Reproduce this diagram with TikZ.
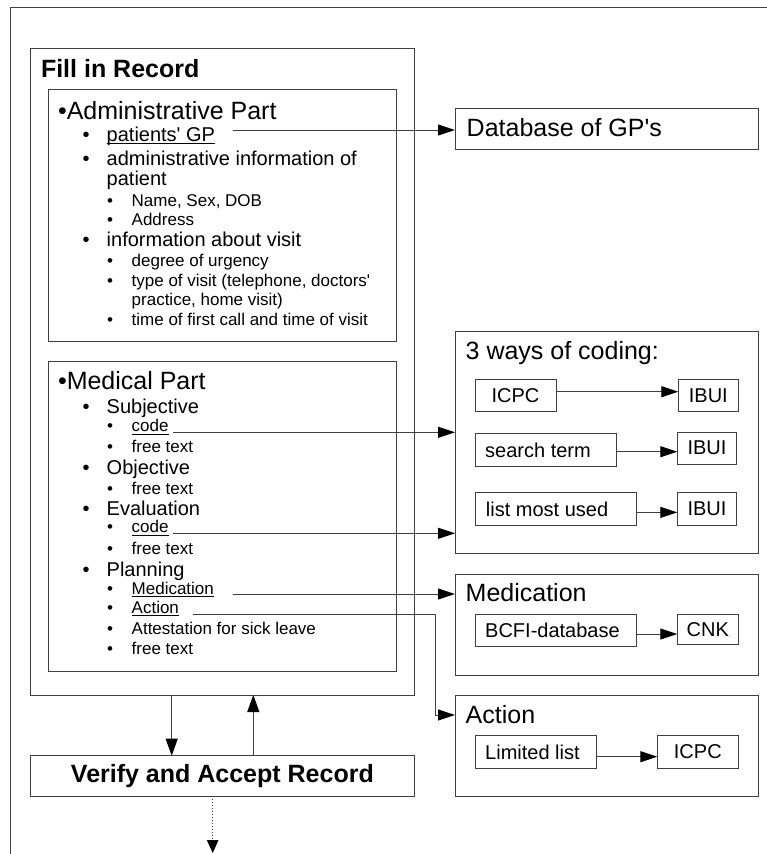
\documentclass[tikz,border=0pt]{standalone}
\usepackage{fontspec}
\setmainfont{Liberation Sans}[Ligatures=TeXOff]
\usetikzlibrary{arrows.meta,calc}
\definecolor{ln}{HTML}{404040}
\newcommand{\ItA}[3]{\node[txt,mid] (#1) at (106.7,#2) {#3}; \node[anchor=base,inner sep=0,mid] (#1-b) at (86,#2) {•};}
\newcommand{\ItB}[3]{\node[txt,sml] (#1) at (131.7,#2) {#3}; \node[anchor=base,inner sep=0,sml] (#1-b) at (110,#2) {•};}
\begin{document}
\begin{tikzpicture}[x=1pt,y=-1pt,
  box/.style={draw=ln, line width=1pt, inner sep=0, outer sep=0, anchor=north west},
  txt/.style={anchor=base west, inner sep=0, outer sep=0},
  big/.style={font=\fontsize{25}{30}\selectfont},
  bigb/.style={font=\fontsize{25}{30}\selectfont\bfseries},
  mid/.style={font=\fontsize{20}{24}\selectfont},
  sml/.style={font=\fontsize{17}{20}\selectfont},
  uline/.style={draw=black, line width=0.8pt},
  arr/.style={draw=ln, line width=1pt, -{Triangle[length=17pt,width=11pt,color=black]}},
  arrb/.style={draw=ln, line width=1pt, -{Triangle[length=17pt,width=12pt,color=black]}}]
\useasboundingbox (0,0) rectangle (767,854);
\fill[white] (0,0) rectangle (767,854);
% outer frame
\draw[ln, line width=1pt] (10,856) -- (10,7.5) -- (769,7.5);

% main boxes
\node[box, minimum width=383.5pt, minimum height=646.5pt] (fill) at (30.5,48.5) {};
\node[txt,bigb] (filltitle) at (41,77) {Fill in Record};
\node[box, minimum width=348pt, minimum height=252.4pt] (admin) at (48.7,89.3) {};
\node[box, minimum width=348pt, minimum height=310pt] (med) at (48.7,361.7) {};
\node[box, minimum width=383.8pt, minimum height=40.3pt, bigb] (verify) at (30.5,755.7) {Verify and Accept Record};

% administrative part
\node[txt,big] (adtitle) at (58,119) {•Administrative Part};
\ItA{gp}{141}{patients' GP}
\ItA{ai}{165}{administrative information of}
\node[txt,mid] (ai2) at (106.7,185) {patient};
\ItB{nm}{206.5}{Name, Sex, DOB}
\ItB{addr}{225}{Address}
\ItA{iv}{246}{information about visit}
\ItB{du}{266}{degree of urgency}
\ItB{tv}{286}{type of visit (telephone, doctors'}
\node[txt,sml] (tv2) at (131.7,305) {practice, home visit)};
\ItB{tf}{325}{time of first call and time of visit}

% medical part
\node[txt,big] (mdtitle) at (58,389) {•Medical Part};
\ItA{subj}{413}{Subjective}
\ItB{code1}{431.5}{code}
\ItB{ft1}{452.3}{free text}
\ItA{obj}{474}{Objective}
\ItB{ft2}{494}{free text}
\ItA{eval}{515}{Evaluation}
\ItB{code2}{532.5}{code}
\ItB{ft3}{554.3}{free text}
\ItA{plan}{576}{Planning}
\ItB{medi}{594}{Medication}
\ItB{act}{613}{Action}
\ItB{att}{634.3}{Attestation for sick leave}
\ItB{ft4}{654}{free text}

% underlines
\draw[uline] ([yshift=-2.5pt]gp.base west) -- ([yshift=-2.5pt]gp.base east);
\draw[uline] ([yshift=-2.5pt]code1.base west) -- ([yshift=-2.5pt]code1.base east);
\draw[uline] ([yshift=-2.5pt]code2.base west) -- ([yshift=-2.5pt]code2.base east);
\draw[uline] ([yshift=-2.5pt]medi.base west) -- ([yshift=-2.5pt]medi.base east);
\draw[uline] ([yshift=-2.5pt]act.base west) -- ([yshift=-2.5pt]act.base east);

% right side boxes
\node[box, minimum width=303.3pt, minimum height=41pt] (dbgp) at (455,108.3) {};
\node[txt,big] (dbgptxt) at (466.7,136) {Database of GP's};

\node[box, minimum width=303.3pt, minimum height=222.3pt] (ways) at (455,331) {};
\node[txt,big] (waystitle) at (465.7,359.3) {3 ways of coding:};
\node[box, minimum width=81pt, minimum height=32.4pt, mid] (icpc) at (475,379.3) {ICPC};
\node[box, minimum width=60pt, minimum height=32.4pt, mid] (ib1) at (678.3,379.3) {IBUI};
\node[box, minimum width=141.7pt, minimum height=33.4pt] (st) at (475,433.3) {};
\node[anchor=west, inner sep=0, mid] (sttxt) at ($(st.west)+(10,0)$) {search term};
\node[box, minimum width=59.4pt, minimum height=31.7pt, mid] (ib2) at (677.3,432.3) {IBUI};
\node[box, minimum width=161.7pt, minimum height=32.3pt] (lmu) at (475,492.7) {};
\node[anchor=west, inner sep=0, mid] (lmutxt) at ($(lmu.west)+(10.7,0)$) {list most used};
\node[box, minimum width=59.4pt, minimum height=32.3pt, mid] (ib3) at (677.3,492.7) {IBUI};

\node[box, minimum width=303.3pt, minimum height=100.7pt] (medb) at (455,574.3) {};
\node[txt,big] (medbtitle) at (465.7,601.7) {Medication};
\node[box, minimum width=161.7pt, minimum height=32.4pt] (bcfi) at (475,614.3) {};
\node[anchor=west, inner sep=0, mid] (bcfitxt) at ($(bcfi.west)+(10,0)$) {BCFI-database};
\node[box, minimum width=61pt, minimum height=30pt, mid] (cnk) at (677.3,614.3) {CNK};

\node[box, minimum width=303.3pt, minimum height=101pt] (actb) at (455,695) {};
\node[txt,big] (actbtitle) at (465.7,723.3) {Action};
\node[box, minimum width=121.7pt, minimum height=32.6pt] (ll) at (475,735.7) {};
\node[anchor=west, inner sep=0, mid] (lltxt) at ($(ll.west)+(10,0)$) {Limited list};
\node[box, minimum width=81pt, minimum height=32.6pt, mid] (icpc2) at (657.3,735.7) {ICPC};

% inner arrows
\draw[arr] ([yshift=3.8pt]icpc.east) -- ([yshift=3.8pt]icpc.east -| ib1.west);
\draw[arr] ([yshift=-1.7pt]st.east) -- ([yshift=-1.7pt]st.east -| ib2.west);
\draw[arr] ([yshift=-3.5pt]lmu.east) -- ([yshift=-3.5pt]lmu.east -| ib3.west);
\draw[arr] ([yshift=-3.5pt]bcfi.east) -- ([yshift=-3.5pt]bcfi.east -| cnk.west);
\draw[arr] ([yshift=-4.7pt]ll.east) -- ([yshift=-4.7pt]ll.east -| icpc2.west);

% connectors from the record
\coordinate (gpS) at (233,130);
\coordinate (c1S) at (173,432.3);
\coordinate (c2S) at (173,533.3);
\coordinate (mdS) at (233,594);
\coordinate (acS) at (193,614.3);
\coordinate (acK) at (435,715);
\draw[arr] (gpS) -- (gpS -| dbgp.west);
\draw[arr] (c1S) -- (c1S -| ways.west);
\draw[arr] (c2S) -- (c2S -| ways.west);
\draw[arr] (mdS) -- (mdS -| medb.west);
\draw[arr] (acS) -| (acK) -- (acK -| actb.west);

% record / verify arrows
\draw[arrb] (171.7,0 |- fill.south) -- (171.7,0 |- verify.north);
\draw[arrb] (253.3,0 |- verify.north) -- (253.3,0 |- fill.south);
\coordinate (outS) at (212.7,853);
\draw[draw=ln, line width=1pt, dotted, -{Triangle[length=13pt,width=11.5pt,color=black]}] (212.7,0 |- verify.south) -- (outS);
\end{tikzpicture}
\end{document}
